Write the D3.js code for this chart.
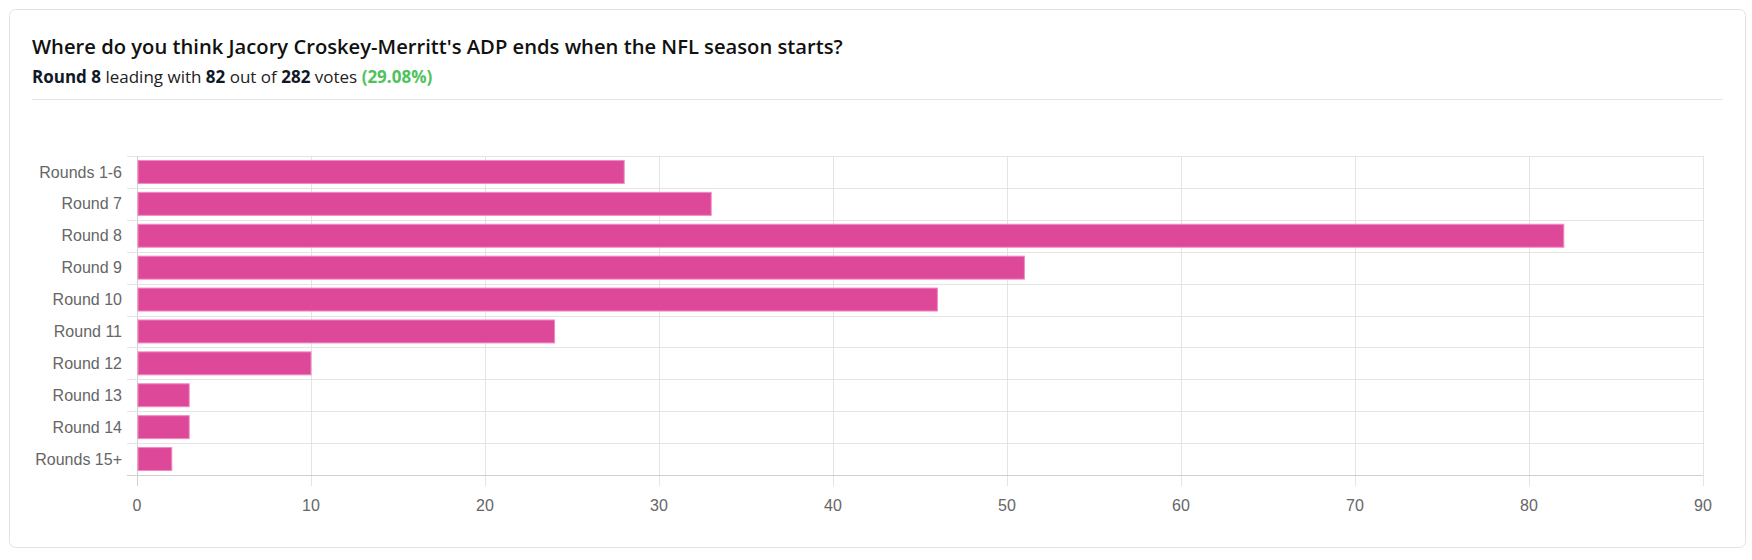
<!DOCTYPE html>
<html>
<head>
<meta charset="utf-8">
<script src="https://cdn.jsdelivr.net/npm/d3@7"></script>
<style>
  body { margin: 0; background: #fff; }
  svg { display: block; }
</style>
</head>
<body>
<svg id="chart" width="1752" height="560"></svg>
<script>
// данные опроса
const categories = ["Rounds 1-6", "Round 7", "Round 8", "Round 9", "Round 10",
                    "Round 11", "Round 12", "Round 13", "Round 14", "Rounds 15+"];
const votes = [28, 33, 82, 51, 46, 24, 10, 3, 3, 2];
const xTicks = [0, 10, 20, 30, 40, 50, 60, 70, 80, 90];

const titleText = "Where do you think Jacory Croskey-Merritt's ADP ends when the NFL season starts?";
const subtitleParts = [
  {t: "Round 8", bold: true},
  {t: " leading with "},
  {t: "82", bold: true},
  {t: " out of "},
  {t: "282", bold: true},
  {t: " votes "},
  {t: "(29.08%)", bold: true, green: true}
];

const svg = d3.select("#chart");

// карточка
svg.append("rect")
  .attr("x", 9.5).attr("y", 9.5)
  .attr("width", 1736).attr("height", 538)
  .attr("rx", 6)
  .style("fill", "#fff")
  .style("stroke", "#e3e3e3");

svg.append("text")
  .attr("x", 32).attr("y", 54)
  .style("font-family", "'Open Sans', sans-serif")
  .style("font-weight", 600)
  .style("font-size", "20.2px")
  .style("fill", "#111")
  .text(titleText);

const sub = svg.append("text")
  .attr("x", 32).attr("y", 83)
  .style("font-family", "'Open Sans', sans-serif")
  .style("font-size", "17px")
  .style("fill", "#222");
subtitleParts.forEach(p => {
  sub.append("tspan")
    .style("font-weight", p.bold ? 700 : 400)
    .style("fill", p.green ? "#4fc25d" : (p.bold ? "#111827" : "#222"))
    .text(p.t);
});

svg.append("line")
  .attr("x1", 32).attr("x2", 1723)
  .attr("y1", 99.5).attr("y2", 99.5)
  .style("stroke", "#e5e5e5");

// область графика
const margin = {top: 156, bottom: 475, left: 137, right: 1703};

const scaleX = d3.scaleLinear()
  .domain([0, 90])
  .range([margin.left, margin.right]);

const scaleY = d3.scaleBand()
  .domain(categories)
  .range([margin.top, margin.bottom])
  .paddingInner(0.28)
  .paddingOuter(0.14);

const step = scaleY.step();
const edges = categories.map(c => scaleY(c) - step * 0.14).concat([margin.bottom]);

const grid = svg.append("g");
// вертикальные линии сетки
grid.selectAll(".vgrid")
  .data(xTicks)
  .enter()
  .append("line")
  .attr("x1", d => Math.round(scaleX(d)) + 0.5)
  .attr("x2", d => Math.round(scaleX(d)) + 0.5)
  .attr("y1", margin.top)
  .attr("y2", margin.bottom + 11)
  .style("stroke", d => d === 0 ? "#cfcfcf" : "#e4e4e4");

// горизонтальные линии сетки
grid.selectAll(".hgrid")
  .data(edges)
  .enter()
  .append("line")
  .attr("x1", margin.left - 10)
  .attr("x2", margin.right)
  .attr("y1", d => Math.round(d) + 0.5)
  .attr("y2", d => Math.round(d) + 0.5)
  .style("stroke", (d, i) => i === edges.length - 1 ? "#cfcfcf" : "#e4e4e4");

// столбцы
svg.selectAll(".bar")
  .data(categories)
  .enter()
  .append("rect")
  .attr("x", scaleX(0) + 1)
  .attr("y", d => scaleY(d))
  .attr("width", (d, i) => scaleX(votes[i]) - scaleX(0) - 1)
  .attr("height", scaleY.bandwidth())
  .style("fill", "#de4899")
  .style("stroke", "#f28ac4")
  .style("stroke-width", 1);

// подписи оси Y
svg.selectAll(".ylab")
  .data(categories)
  .enter()
  .append("text")
  .attr("x", 122)
  .attr("y", d => scaleY(d) + scaleY.bandwidth() / 2)
  .attr("dy", "0.35em")
  .attr("text-anchor", "end")
  .style("font-family", "'Liberation Sans', Arial, sans-serif")
  .style("font-size", "16px")
  .style("fill", "#666")
  .text(d => d);

// подписи оси X
svg.selectAll(".xlab")
  .data(xTicks)
  .enter()
  .append("text")
  .attr("x", d => scaleX(d))
  .attr("y", 505)
  .attr("dy", "0.35em")
  .attr("text-anchor", "middle")
  .style("font-family", "'Liberation Sans', Arial, sans-serif")
  .style("font-size", "16px")
  .style("fill", "#666")
  .text(d => d);
</script>
</body>
</html>
